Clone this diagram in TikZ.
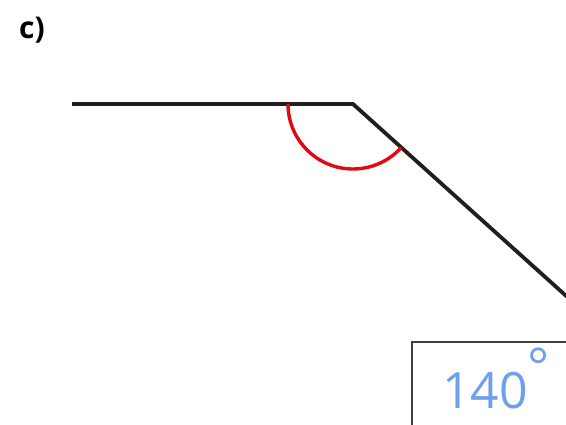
\documentclass[tikz,border=0pt]{standalone}
\usepackage{fontspec}
\usetikzlibrary{calc}
\setmainfont{Open Sans}
\newfontfamily\handfont{Open Sans}
\definecolor{arcred}{RGB}{225,10,20}
\definecolor{handblue}{RGB}{110,160,240}
\begin{document}
\begin{tikzpicture}[x=1pt,y=-1pt,
  armline/.style={line width=3.8pt,color=black!88},
  anglearc/.style={line width=3.4pt,color=arcred},
  answerbox/.style={draw=black!75,line width=1.2pt}]
\useasboundingbox (0,0) rectangle (566,425);
\node[anchor=west,inner sep=0pt,font=\bfseries\fontsize{30}{32}\selectfont] (lbl) at (19,30) {c)};
\coordinate (L) at (72,104);
\coordinate (V) at (353,104);
\coordinate (R) at ($(V)+(42:300)$);
\draw[armline] (L) -- (V) -- (R);
\draw[anglearc] (V) ++(180:65) arc[start angle=180,end angle=42,radius=65];
\draw[answerbox] (412,342) rectangle (600,460);
\node[inner sep=0pt,text=handblue,font=\handfont\fontsize{50}{52}\selectfont] (ans) at (485,391) {140};
\node[inner sep=0pt,text=handblue,font=\handfont\fontsize{52}{52}\selectfont] (deg) at (539,367) {°};
\end{tikzpicture}
\end{document}
